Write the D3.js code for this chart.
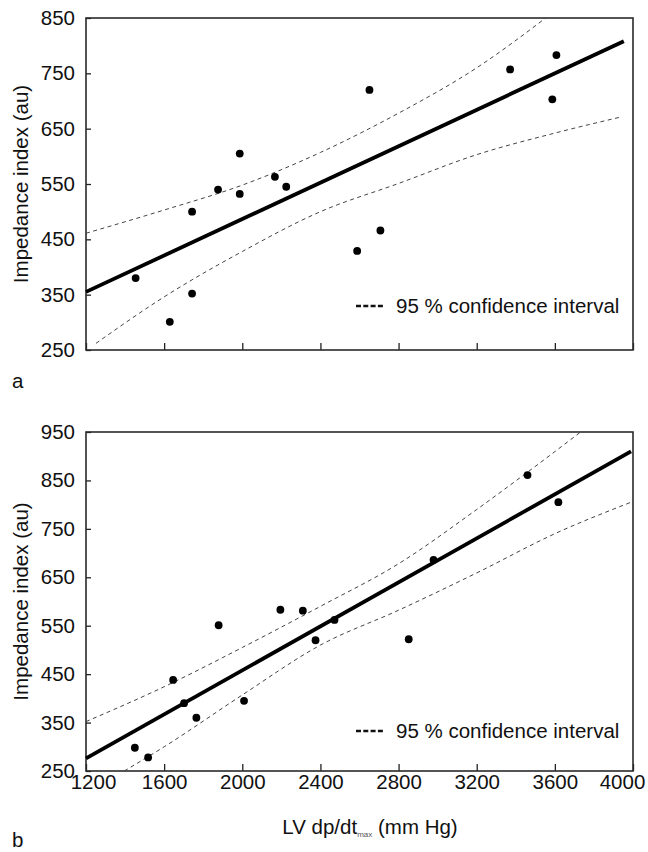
<!DOCTYPE html>
<html>
<head>
<meta charset="utf-8">
<script src="https://cdn.jsdelivr.net/npm/d3@7"></script>
<style>
  body { margin: 0; background: #fff; }
  svg text { font-family: "Liberation Sans", Arial, sans-serif; fill: #111; }
</style>
</head>
<body>
<div id="chart"></div>
<script>

// x axis ticks (LV dp/dt max, mm Hg)
var xTicks = [1200, 1600, 2000, 2400, 2800, 3200, 3600, 4000];
var yTicksA = [250, 350, 450, 550, 650, 750, 850];
var yTicksB = [250, 350, 450, 550, 650, 750, 850, 950];

// panel a: measured points
var dpdtA = [1454, 1629, 1743, 1743, 1876, 1987, 1987, 2167, 2225, 2588, 2651, 2707, 3371, 3587, 3608];
var impA  = [380,  301,  352,  500,  540,  605,  532,  563,  545,  429,  720,  466,  757,  703,  783];

// panel a: regression line and 95% CI curves
var fitA     = [[1200, 355], [3953, 808]];
var ciUpperA = [[1200, 461], [1600, 503], [2000, 548], [2400, 607], [2800, 678], [3200, 760], [3553, 850]];
var ciLowerA = [[1251, 262], [1600, 346], [2000, 428], [2400, 500], [2800, 551], [3200, 603], [3600, 642], [3937, 671]];

// panel b: measured points
var dpdtB = [1450, 1518, 1646, 1702, 1765, 1879, 2009, 2195, 2310, 2375, 2472, 2852, 2979, 3460, 3618];
var impB  = [298,  278,  438,  390,  360,  551,  395,  583,  581,  520,  562,  522,  686,  861,  805];

var fitB     = [[1200, 276], [3990, 910]];
var ciUpperB = [[1200, 352], [1600, 424], [2000, 505], [2400, 590], [2800, 678], [3200, 790], [3460, 867], [3732, 950]];
var ciLowerB = [[1396, 250], [1600, 300], [2000, 407], [2400, 510], [2800, 582], [3200, 659], [3600, 740], [3990, 805]];

var svg = d3.select("#chart")
  .append("svg")
    .attr("width", 648)
    .attr("height", 852);

function drawPanel(p) {
  var width = p.right - p.left,
      height = p.bottom - p.top;

  var g = svg.append("g")
    .attr("transform", "translate(" + p.left + "," + p.top + ")");

  var x = d3.scaleLinear().domain([1200, 4000]).range([0, width]);
  var y = d3.scaleLinear().domain(d3.extent(p.yTicks)).range([height, 0]);

  // axes, ticks pointing inwards
  var xAxis = d3.axisBottom(x)
    .tickValues(xTicks)
    .tickSizeInner(-7)
    .tickSizeOuter(0)
    .tickPadding(3)
    .tickFormat(p.xLabels ? d3.format("d") : "");

  var gx = g.append("g")
    .attr("transform", "translate(0," + height + ")")
    .call(xAxis);

  var gy = g.append("g")
    .call(d3.axisLeft(y)
      .tickValues(p.yTicks)
      .tickSizeInner(-5)
      .tickSizeOuter(0)
      .tickPadding(11));

  [gx, gy].forEach(function(a) {
    a.select(".domain").remove();
    a.selectAll("line").attr("stroke", "#222").attr("stroke-width", 1.3);
    a.selectAll("text").style("font-size", "20.5px").attr("fill", "#111");
  });

  // end labels sit a little inside the frame, as in the original
  gx.selectAll("text")
    .attr("dx", function(d) { return d == 1200 ? 7 : (d == 4000 ? -11 : 0); });

  // frame
  g.append("rect")
    .attr("width", width)
    .attr("height", height)
    .attr("fill", "none")
    .attr("stroke", "#2a2a2a")
    .attr("stroke-width", 1.6);

  var line = d3.line()
    .x(function(d) { return x(d[0]); })
    .y(function(d) { return y(d[1]); })
    .curve(d3.curveMonotoneX);

  // confidence interval
  [p.ciUpper, p.ciLower].forEach(function(ci) {
    g.append("path")
      .datum(ci)
      .attr("d", line)
      .attr("fill", "none")
      .attr("stroke", "#444")
      .attr("stroke-width", 1)
      .attr("stroke-dasharray", "4,3.5");
  });

  // regression line
  g.append("path")
    .datum(p.fit)
    .attr("d", line)
    .attr("fill", "none")
    .attr("stroke", "#000")
    .attr("stroke-width", 3.8);

  // data points
  g.selectAll("circle")
    .data(d3.zip(p.xs, p.ys))
    .enter()
    .append("circle")
      .attr("cx", function(d) { return x(d[0]); })
      .attr("cy", function(d) { return y(d[1]); })
      .attr("r", 3.9)
      .attr("fill", "#000");

  // legend
  g.append("line")
    .attr("x1", 270).attr("x2", 297)
    .attr("y1", height - p.legendOff).attr("y2", height - p.legendOff)
    .attr("stroke", "#111")
    .attr("stroke-width", 2.4)
    .attr("stroke-dasharray", "5,2.3");
  g.append("text")
    .attr("x", 310)
    .attr("y", height - p.legendOff)
    .attr("dy", "0.35em")
    .style("font-size", "20.5px")
    .text("95 % confidence interval");

  // y axis title
  g.append("text")
    .attr("transform", "translate(" + (28 - p.left) + "," + (height / 2) + ") rotate(-90)")
    .attr("text-anchor", "middle")
    .style("font-size", "20.5px")
    .text("Impedance index (au)");

  // panel letter
  svg.append("text")
    .attr("x", 12)
    .attr("y", p.letterY)
    .style("font-size", "20.5px")
    .text(p.letter);

  return g;
}

drawPanel({
  left: 86, right: 633, top: 18, bottom: 350,
  yTicks: yTicksA, xLabels: false,
  xs: dpdtA, ys: impA, fit: fitA, ciUpper: ciUpperA, ciLower: ciLowerA,
  legendOff: 44, letter: "a", letterY: 388
});

drawPanel({
  left: 86, right: 633, top: 432, bottom: 771,
  yTicks: yTicksB, xLabels: true,
  xs: dpdtB, ys: impB, fit: fitB, ciUpper: ciUpperB, ciLower: ciLowerB,
  legendOff: 40, letter: "b", letterY: 847
});

// x axis title with subscript
var xt = svg.append("text")
  .attr("x", 370)
  .attr("y", 834)
  .attr("text-anchor", "middle")
  .style("font-size", "20.5px");
xt.append("tspan").text("LV dp/dt");
xt.append("tspan").attr("dy", 3).style("font-size", "8px").attr("fill", "#555").text("max");
xt.append("tspan").attr("dy", -3).text(" (mm Hg)");

</script>
</body>
</html>
